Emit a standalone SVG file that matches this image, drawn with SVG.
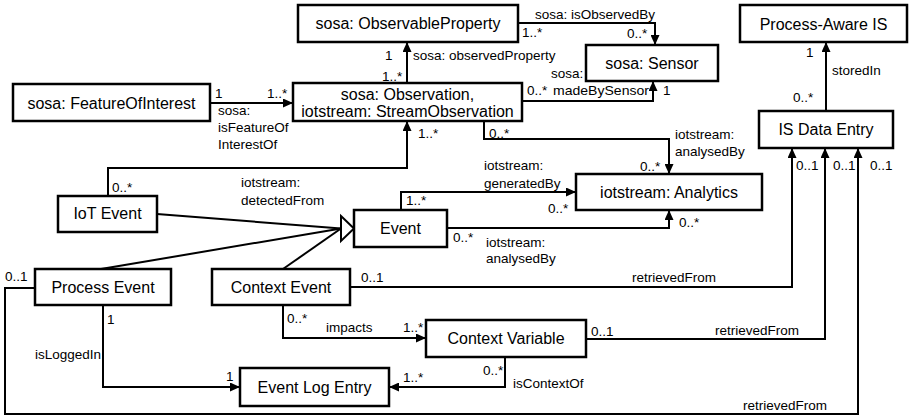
<svg xmlns="http://www.w3.org/2000/svg" width="911" height="417" viewBox="0 0 911 417">
<style>
.box{fill:#fff;stroke:#000;stroke-width:2.5}
.nt{font-family:"Liberation Sans",Arial,sans-serif;font-size:16px;fill:#000;text-anchor:middle}
.lb{font-family:"Liberation Sans",Arial,sans-serif;font-size:13.5px;fill:#000}
.c{fill:none;stroke:#000;stroke-width:2}
.ca{fill:none;stroke:#000;stroke-width:2;marker-end:url(#arr)}
</style>
<defs>
<marker id="arr" viewBox="0 0 10 9" refX="10" refY="4.5" markerWidth="10" markerHeight="9" orient="auto" markerUnits="userSpaceOnUse">
<path d="M0,0 L10,4.5 L0,9 z" fill="#000"/>
</marker>
</defs>
<rect width="911" height="417" fill="#fff"/>
<g id="connectors">
<path class="ca" d="M518,23 H655 V45"/>
<path class="ca" d="M522,101 H653 V81"/>
<path class="ca" d="M407,83 V42"/>
<path class="ca" d="M210,103 H293"/>
<path class="ca" d="M826,111 V42"/>
<path class="ca" d="M484,121 V139 H669 V174"/>
<path class="ca" d="M108,196 V168 H407 V121"/>
<path class="ca" d="M401,210 V192 H576"/>
<path class="ca" d="M447,228 H669 V210"/>
<path class="c" d="M157,214 L341,228.5"/>
<path class="c" d="M101,269 L341,228.5"/>
<path class="c" d="M283,269 L341,228.5"/>
<polygon points="341,216 354,228.5 341,241" fill="#fff" stroke="#000" stroke-width="2"/>
<path class="ca" d="M350,287 H792 V148"/>
<path class="ca" d="M586,339 H825 V148"/>
<path class="ca" d="M35,288 H5 V414 H858 V148"/>
<path class="ca" d="M283,305 V338 H426"/>
<path class="ca" d="M103,305 V387 H240"/>
<path class="ca" d="M505,357 V387 H389"/>
</g>
<g id="labels">
<text class="lb" x="535" y="19">sosa: isObservedBy</text>
<text class="lb" x="522" y="37">1..*</text>
<text class="lb" x="627" y="38">0..*</text>
<text class="lb" x="551" y="78">sosa:</text>
<text class="lb" x="553" y="95" textLength="96" lengthAdjust="spacingAndGlyphs">madeBySensor</text>
<text class="lb" x="527" y="95">0..*</text>
<text class="lb" x="663" y="95">1</text>
<text class="lb" x="385" y="60">1</text>
<text class="lb" x="382" y="81">1..*</text>
<text class="lb" x="413" y="60">sosa: observedProperty</text>
<text class="lb" x="215" y="98">1</text>
<text class="lb" x="267" y="98">1..*</text>
<text class="lb" x="218" y="115">sosa:</text>
<text class="lb" x="218" y="132">isFeatureOf</text>
<text class="lb" x="218" y="149">InterestOf</text>
<text class="lb" x="806" y="57">1</text>
<text class="lb" x="832" y="75">storedIn</text>
<text class="lb" x="793" y="102">0..*</text>
<text class="lb" x="489" y="138">0..*</text>
<text class="lb" x="418" y="138">1..*</text>
<text class="lb" x="675" y="139">iotstream:</text>
<text class="lb" x="675" y="156">analysedBy</text>
<text class="lb" x="640" y="171">0..*</text>
<text class="lb" x="112" y="192">0..*</text>
<text class="lb" x="241" y="187">iotstream:</text>
<text class="lb" x="241" y="205">detectedFrom</text>
<text class="lb" x="406" y="205">1..*</text>
<text class="lb" x="484" y="170">iotstream:</text>
<text class="lb" x="484" y="188">generatedBy</text>
<text class="lb" x="548" y="213">0..*</text>
<text class="lb" x="453" y="242">0..*</text>
<text class="lb" x="486" y="247">iotstream:</text>
<text class="lb" x="486" y="263">analysedBy</text>
<text class="lb" x="679" y="227">0..*</text>
<text class="lb" x="361" y="282">0..1</text>
<text class="lb" x="632" y="282">retrievedFrom</text>
<text class="lb" x="796" y="170">0..1</text>
<text class="lb" x="833" y="170">0..1</text>
<text class="lb" x="870" y="170">0..1</text>
<text class="lb" x="591" y="336">0..1</text>
<text class="lb" x="715" y="335">retrievedFrom</text>
<text class="lb" x="5" y="281">0..1</text>
<text class="lb" x="743" y="410">retrievedFrom</text>
<text class="lb" x="287" y="323">0..*</text>
<text class="lb" x="326" y="332">impacts</text>
<text class="lb" x="403" y="332">1..*</text>
<text class="lb" x="107" y="324">1</text>
<text class="lb" x="35" y="359">isLoggedIn</text>
<text class="lb" x="226" y="381">1</text>
<text class="lb" x="483" y="375">0..*</text>
<text class="lb" x="403" y="382">1..*</text>
<text class="lb" x="513" y="388">isContextOf</text>
</g>
<g id="obsprop"><rect class="box" x="298" y="5" width="220" height="37"/><text class="nt" x="408" y="29">sosa: ObservableProperty</text></g>
<g id="sensor"><rect class="box" x="586" y="45" width="132" height="36"/><text class="nt" x="652" y="69">sosa: Sensor</text></g>
<g id="pais"><rect class="box" x="740" y="5" width="167" height="37"/><text class="nt" x="823.5" y="30">Process-Aware IS</text></g>
<g id="foi"><rect class="box" x="13" y="84" width="197" height="37"/><text class="nt" x="111.5" y="109">sosa: FeatureOfInterest</text></g>
<g id="obs"><rect class="box" x="293" y="83" width="229" height="38"/><text class="nt" x="407.5" y="100">sosa: Observation,</text><text class="nt" x="407.5" y="117">iotstream: StreamObservation</text></g>
<g id="isde"><rect class="box" x="759" y="111" width="134" height="37"/><text class="nt" x="826" y="135">IS Data Entry</text></g>
<g id="analytics"><rect class="box" x="576" y="174" width="186" height="36"/><text class="nt" x="669" y="198">iotstream: Analytics</text></g>
<g id="iotevent"><rect class="box" x="58" y="196" width="99" height="36"/><text class="nt" x="107.5" y="219">IoT Event</text></g>
<g id="event"><rect class="box" x="354" y="210" width="93" height="37"/><text class="nt" x="400.5" y="234">Event</text></g>
<g id="procevent"><rect class="box" x="35" y="269" width="136" height="36"/><text class="nt" x="103" y="293">Process Event</text></g>
<g id="ctxevent"><rect class="box" x="212" y="269" width="138" height="36"/><text class="nt" x="281" y="293">Context Event</text></g>
<g id="ctxvar"><rect class="box" x="426" y="320" width="160" height="37"/><text class="nt" x="506" y="344">Context Variable</text></g>
<g id="eventlog"><rect class="box" x="240" y="368" width="149" height="38"/><text class="nt" x="314.5" y="393">Event Log Entry</text></g>
</svg>
